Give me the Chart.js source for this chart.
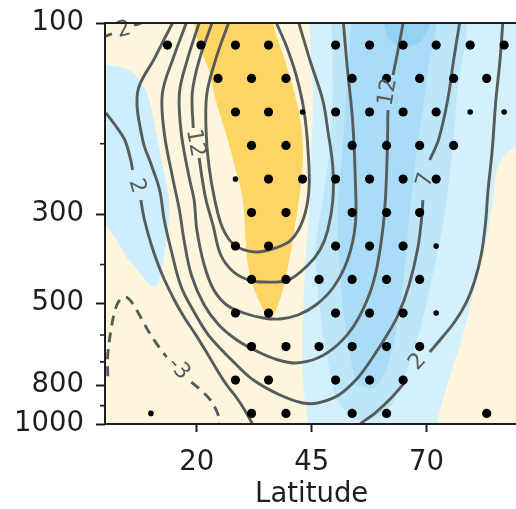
<!DOCTYPE html>
<html>
<head>
<meta charset="utf-8">
<script src="https://cdn.jsdelivr.net/npm/chart.js@4.4.1/dist/chart.umd.min.js"></script>
<style>
	html, body { margin:0; padding:0; overflow:hidden; background:#fff; }
	#wrap { width:523px; height:509px; }
</style>
</head>
<body>
<div id="wrap"><canvas id="c" width="523" height="509"></canvas></div>
<script>
// axes
const latTicks = [20, 45, 70];
const pMajor = [100, 300, 500, 800, 1000];
const pMinor = [200, 400, 600, 700, 900];

// shaded anomalies, [lat, hPa]
const goldPatch = [[19.0,88],[19.4,100],[20.5,113.5],[22.6,131],[24.1,155.6],[26.1,184.9],[28.2,226],[30.0,276.4],[30.6,347.7],[31.3,413.1],[33.0,476.9],[36.0,544.1],[38.4,476.9],[40.1,389.9],[41.4,318.9],[42.5,261],[43.1,213.4],[42.5,174.6],[40.9,144.4],[38.8,120.2],[36.6,100],[36.9,88]];
const blueLeft = [[-3,127],[0,127.3],[3.2,128.8],[5.8,132.5],[7.5,138.7],[9.3,151.2],[10.8,179.6],[12.3,219.6],[13.6,261],[14.0,292.7],[13.4,347.7],[12.3,413.1],[11.4,450.3],[9.7,447.7],[7.5,417.8],[4.7,383.4],[2.2,343.8],[0.6,324.5],[0,318.9],[-3,318]];
const blueOuter = [[44.3,88],[95,88],[95,174.6],[86.2,219.6],[84.5,276.4],[83.0,347.7],[80.4,463.4],[77.6,617.3],[74.8,776.9],[72.2,1000],[71.5,1150],[44.1,1150],[44.2,1000],[43.1,776.9],[43.1,550.4],[43.8,368.3],[44.4,297.7],[44.8,219.6],[45.3,155.6],[44.8,116.8],[44.4,100]];
const blueMid = [[49.1,88],[77.0,88],[76.5,155.6],[75.4,219.6],[73.7,310],[71.1,437.5],[67.9,617.3],[64.0,822.7],[60.3,949.8],[55.0,977.2],[50.6,871.3],[48.5,692.4],[46.8,519.6],[45.9,368.3],[47.4,276.4],[48.9,207.4],[49.6,155.6],[49.3,100]];
const blueCore = [[53.9,88],[71.2,88],[70.0,138.7],[67.9,207.4],[66.2,310],[64.7,463.4],[62.5,654],[59.3,799.5],[55.4,799.5],[52.8,617.3],[51.3,437.5],[50.6,310],[51.7,207.4],[52.8,138.7]];
const blueTop = [[60.0,92],[70.8,92],[69.0,110.3],[64.7,115],[61.4,109]];

// contours, [lat, hPa]; split where the labels sit
const c27 = [[26.9,100],[24.4,120.2],[22.2,149.5],[22.0,184.9],[22.6,226],[23.9,276.4],[25.6,324.5],[28.2,357.9],[32.8,372.5],[37.1,364.1],[40.5,347.7],[43.1,310],[44.4,261],[44.2,207.4],[43.3,164.8],[41.6,134.8],[39.4,113.5],[37.3,100]];
const c22a = [[23.3,100],[20.5,123.7],[19.0,149.5],[19.2,182.7]];
const c22b = [[20.5,217.1],[21.1,242.1],[22.0,276.4],[23.5,318.9],[25.2,379],[28.0,417.8],[31.3,437.5],[34.5,442.6],[39.9,437.5],[44.2,401.3],[46.8,368.3],[48.5,328.4],[49.6,276.4],[49.6,228.6],[48.5,184.9],[47.4,155.6],[44.6,123.7],[42.2,100]];
const c17 = [[20.5,100],[17.9,123.7],[16.2,149.5],[16.6,188.1],[18.3,242.1],[19.4,276.4],[20.0,328.4],[21.6,401.3],[23.7,463.4],[26.5,505],[30.2,528.7],[34.5,544.1],[38.1,547.2],[42.0,534.8],[45.9,505],[49.6,458],[52.8,389.9],[54.5,318.9],[54.5,246.4],[53.9,174.6],[52.8,131],[51.9,100]];
const c12a = [[17.7,100],[15.1,120.2],[12.5,149.5],[12.9,188.1],[14.7,242.1],[16.2,292.7],[17.2,347.7],[18.8,425],[21.6,505],[24.8,566.5],[28.7,617.3],[33.4,661.5],[37.7,692.4],[41.6,704.5],[46.3,684.6],[50.6,635.3],[54.3,566.5],[57.5,476.9],[59.3,401.3],[60.8,301.2],[61.4,219.6],[61.6,164.8]];
const c12b = [[62.7,134.8],[63.8,116.8],[64.9,100]];
const c7a = [[14.7,100],[10.8,122.3],[7.1,148.6],[8.2,195.7],[10.1,226],[11.9,261],[12.9,310],[14.4,368.3],[16.6,455.5],[19.4,525.6],[22.2,593.3],[24.8,642.7],[28.0,700.5],[32.3,776.9],[38.1,846.7],[43.1,886.5],[46.3,886.5],[50.9,846.7],[55.0,768],[58.2,684.6],[61.4,600.2],[63.8,534.8],[66.2,450.3],[68.1,364.1],[69.0,301.2],[69.2,276.4]];
const c7b = [[70.7,219.6],[72.6,195.7],[74.6,155.6],[75.9,123.7],[77.2,100]];
const c2a = [[0.2,167.6],[2.2,179.6],[4.3,195.7],[5.6,219.6],[6.0,232.6]];
const c2b = [[7.8,276.4],[8.6,310],[10.1,357.9],[12.3,420.2],[15.1,490.7],[17.2,541],[19.8,600.2],[22.2,665.2],[24.4,733.5],[26.5,799.5],[28.7,861.4],[30.4,923],[32.1,1000],[32.6,1030]];
const c2c = [[55.2,1030],[55.6,1000],[58.8,939],[62.5,856.4],[65.7,776.9]];
const c2d = [[70.7,661.5],[73.3,610.3],[76.1,556.8],[78.7,496.4],[80.4,442.6],[81.9,379],[82.8,318.9],[83.4,261],[84.3,207.4],[85.1,155.6],[86.0,123.7],[86.6,100]];
const c2e = [[-1,108.8],[1.5,106.5]];
const c2f = [[6.3,101.2],[7.8,100],[8.3,98]];
const cm3a = [[0.6,760],[0.6,672.9],[1.3,583],[2.2,519.6],[3.2,490.7],[4.5,482.4],[5.8,496.4],[7.5,534.8],[9.7,593.3],[11.9,646.3],[13.4,680.7]];
const cm3b = [[18.8,785.9],[21.1,827.5],[23.1,876.2],[24.4,933.6],[24.8,966.1],[24.8,1000],[24.8,1030]];

// contour labels
const labelText = ['2', '12', '2', '12', '7', '2', '-3'];
const labelLat = [4.1, 19.6, 6.9, 61.6, 69.8, 68.1, 16.0];
const labelP = [104.1, 199.2, 255, 148.6, 246.4, 700.5, 728];
const labelRot = [-15, 80, 73, -80, -74, -48, 48];

// stippling
const dotP = [113.5, 137.5, 166.7, 202, 245, 297, 360, 436, 529, 641, 777, 941];
const dotLat = [
	[13.6, 20.9, 28.4, 35.6, 50.2, 57.6, 64.9, 72.1, 79.5, 86.9],
	[24.6, 31.9, 39.4, 53.8, 61.3, 68.5, 75.9, 83.1],
	[28.4, 35.6, 50.2, 57.6, 64.9, 72.1],
	[31.9, 39.4, 53.8, 61.3, 68.5, 75.9],
	[35.6, 43.0, 50.2, 57.6, 64.9, 72.1],
	[31.9, 39.4, 53.8, 61.3, 68.5],
	[28.4, 35.6, 50.2, 57.6, 64.9],
	[31.9, 39.4, 46.6, 53.8, 61.3, 68.5],
	[28.4, 35.6, 50.2, 57.6, 64.9],
	[31.9, 39.4, 46.6, 53.8, 61.3, 68.5],
	[28.4, 35.6, 50.2, 57.6, 64.9],
	[31.9, 39.4, 53.8, 61.3, 83.1]
];
const halfDotLat = [43.0, 79.5, 86.9, 28.4, 72.1, 72.1, 10.0];
const halfDotP = [166.7, 166.7, 166.7, 245, 360, 529, 941];

const cream = '#fdf6dc';
const lineCol = '#565c5c';
const txt = '#1e1e1e';
const pts = a => a.map(d => ({x: d[0], y: d[1]}));

function patch(a, col) {
	return {data: pts(a), fill: 'shape', backgroundColor: col, borderWidth: 0, pointRadius: 0, tension: 0.35, order: 10};
}
function contour(a, dashed) {
	return {data: pts(a), fill: false, borderColor: lineCol, borderWidth: 2.9, borderDash: dashed ? [10, 7] : [], pointRadius: 0, tension: 0.35, order: 5};
}

const dots = [];
dotLat.forEach((row, i) => row.forEach(l => dots.push({x: l, y: dotP[i]})));
const halfDots = halfDotLat.map((l, i) => ({x: l, y: halfDotP[i]}));

const datasets = [
	patch(blueOuter, '#d3f0fc'),
	patch(blueMid, '#bde6f9'),
	patch(blueCore, '#a9dcf7'),
	patch(blueTop, '#94d2f4'),
	patch(blueLeft, '#cdeefc'),
	patch(goldPatch, '#fdd565'),
	contour(c27), contour(c22a), contour(c22b), contour(c17), contour(c12a), contour(c12b),
	contour(c7a), contour(c7b), contour(c2a), contour(c2b), contour(c2c), contour(c2d),
	contour(c2e), contour(c2f), contour(cm3a, true), contour(cm3b, true),
	{data: dots, showLine: false, pointRadius: 4.6, pointBackgroundColor: '#000', pointBorderWidth: 0, order: 1},
	{data: halfDots, showLine: false, pointRadius: 2.8, pointBackgroundColor: '#000', pointBorderWidth: 0, order: 1}
];
// draw order: fills bottom, then lines, dots on top
datasets.forEach((d, i) => { if (d.order === 10) d.order = 20 - i; });

const frame = {
	id: 'frame',
	beforeDatasetsDraw(chart) {
		const {ctx, chartArea: a} = chart;
		ctx.save();
		ctx.fillStyle = cream;
		ctx.fillRect(a.left, a.top, a.right - a.left, a.bottom - a.top);
		ctx.restore();
	},
	afterDatasetsDraw(chart) {
		const {ctx, chartArea: a} = chart;
		const xs = chart.scales.x, ys = chart.scales.y;
		ctx.save();
		// contour labels
		ctx.fillStyle = lineCol;
		ctx.font = '22px "DejaVu Sans"';
		ctx.textAlign = 'center';
		ctx.textBaseline = 'middle';
		labelText.forEach((t, i) => {
			ctx.save();
			ctx.translate(xs.getPixelForValue(labelLat[i]), ys.getPixelForValue(labelP[i]));
			ctx.rotate(labelRot[i] * Math.PI / 180);
			ctx.fillText(t, 0, 0);
			ctx.restore();
		});
		// spines
		ctx.strokeStyle = txt;
		ctx.lineWidth = 2;
		ctx.beginPath();
		ctx.moveTo(a.right + 2, a.top);
		ctx.lineTo(a.left, a.top);
		ctx.lineTo(a.left, a.bottom);
		ctx.lineTo(a.right + 2, a.bottom);
		ctx.stroke();
		// minor ticks
		ctx.lineWidth = 1.6;
		ctx.beginPath();
		pMinor.forEach(p => {
			const y = ys.getPixelForValue(p);
			ctx.moveTo(a.left - 5, y);
			ctx.lineTo(a.left, y);
		});
		ctx.stroke();
		ctx.restore();
	}
};

const axFont = {family: 'DejaVu Sans', size: 27.5};

new Chart('c', {
	type: 'line',
	data: {datasets: datasets},
	options: {
		responsive: false,
		animation: false,
		events: [],
		layout: {padding: {top: 23, right: 1, left: 0, bottom: 0}},
		plugins: {legend: {display: false}, tooltip: {enabled: false}},
		scales: {
			x: {
				type: 'linear', min: 0, max: 90,
				afterBuildTicks: s => { s.ticks = latTicks.map(v => ({value: v})); },
				afterFit: s => { s.height = 85; s.paddingLeft = 0; s.paddingRight = 0; },
				ticks: {font: axFont, color: txt, padding: 14, maxRotation: 0, autoSkip: false},
				grid: {drawOnChartArea: false, tickLength: 8, tickWidth: 2, tickColor: txt},
				border: {display: false},
				title: {display: true, text: 'Latitude', font: axFont, color: txt, padding: {top: 0, bottom: -2}}
			},
			y: {
				type: 'logarithmic', reverse: true, min: 100, max: 1000,
				afterBuildTicks: s => { s.ticks = pMajor.map(v => ({value: v})); },
				afterFit: s => { s.width = 105; s.paddingTop = 0; s.paddingBottom = 0; },
				ticks: {font: axFont, color: txt, padding: 12, autoSkip: false, callback: v => String(v)},
				grid: {drawOnChartArea: false, tickLength: 9, tickWidth: 2, tickColor: txt},
				border: {display: false}
			}
		}
	},
	plugins: [frame]
});
</script>
</body>
</html>
